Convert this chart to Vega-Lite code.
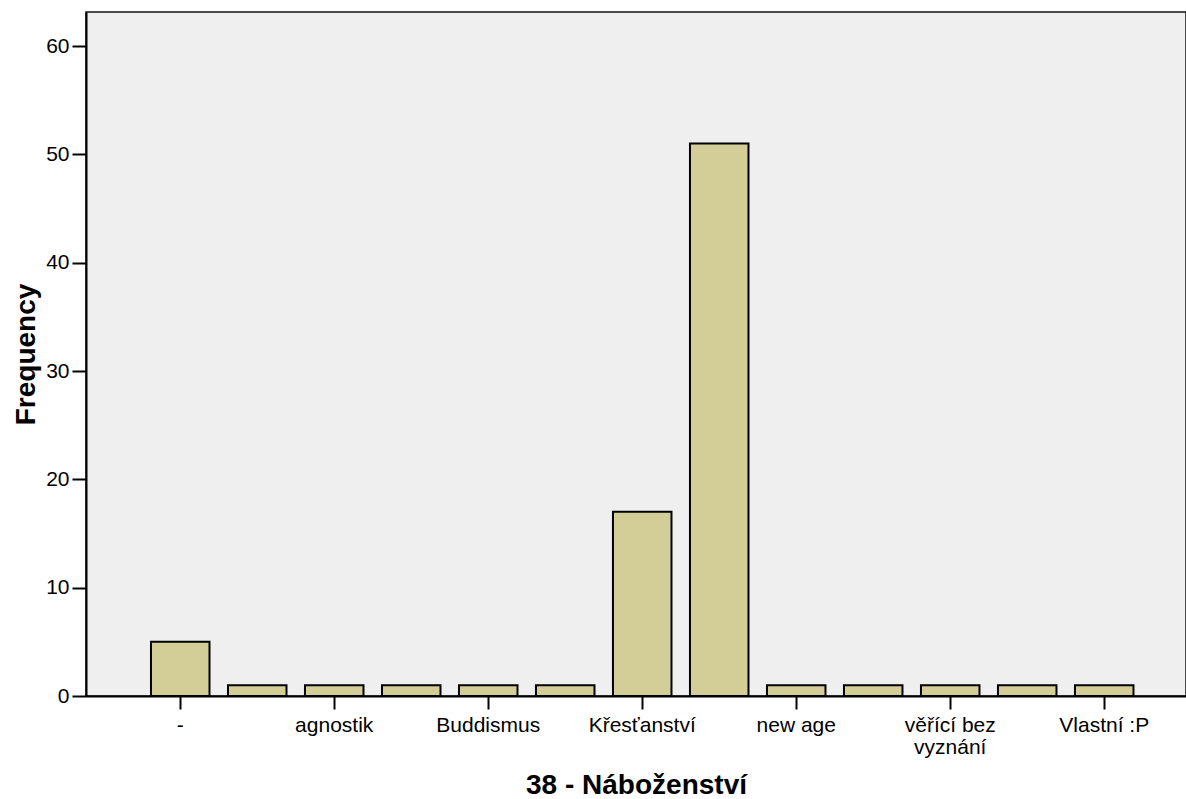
{
  "$schema": "https://vega.github.io/schema/vega-lite/v6.json",
  "width": 1100,
  "height": 684,
  "autosize": {"type": "none"},
  "padding": {"left": 86, "top": 12, "right": 0, "bottom": 103},
  "background": "#ffffff",
  "config": {
    "font": "Liberation Sans",
    "view": {"fill": "#EFEFEF", "stroke": "#111111", "strokeWidth": 1.5}
  },
  "data": {
    "values": [
      {"kategorie": "-", "frequency": 5},
      {"kategorie": "kategorie 2", "frequency": 1},
      {"kategorie": "agnostik", "frequency": 1},
      {"kategorie": "kategorie 4", "frequency": 1},
      {"kategorie": "Buddismus", "frequency": 1},
      {"kategorie": "kategorie 6", "frequency": 1},
      {"kategorie": "Křesťanství", "frequency": 17},
      {"kategorie": "kategorie 8", "frequency": 51},
      {"kategorie": "new age", "frequency": 1},
      {"kategorie": "kategorie 10", "frequency": 1},
      {"kategorie": "věřící bez vyznání", "frequency": 1},
      {"kategorie": "kategorie 12", "frequency": 1},
      {"kategorie": "Vlastní :P", "frequency": 1}
    ]
  },
  "mark": {"type": "bar", "fill": "#D3CE98", "stroke": "#000000", "strokeWidth": 2},
  "encoding": {
    "x": {
      "field": "kategorie",
      "type": "nominal",
      "sort": null,
      "scale": {"paddingInner": 0.24, "paddingOuter": 0.763, "align": 0.553},
      "axis": {
        "title": "38 - Náboženství",
        "titleFont": "Liberation Sans",
        "titleFontSize": 28,
        "titleFontWeight": "bold",
        "titleColor": "#000000",
        "titleBaseline": "alphabetic",
        "titleX": 550,
        "titleY": 97,
        "titleAnchor": "middle",
        "values": ["-", "agnostik", "Buddismus", "Křesťanství", "new age", "věřící bez vyznání", "Vlastní :P"],
        "labelExpr": "datum.value == 'věřící bez vyznání' ? ['věřící bez', 'vyznání'] : datum.label",
        "labelAngle": 0,
        "labelFontSize": 21,
        "labelColor": "#000000",
        "labelPadding": 5,
        "labelLineHeight": 22,
        "labelOverlap": false,
        "tickSize": 13,
        "tickWidth": 2,
        "tickColor": "#000000",
        "domainColor": "#000000",
        "domainWidth": 2,
        "grid": false
      }
    },
    "y": {
      "field": "frequency",
      "type": "quantitative",
      "scale": {"domain": [0, 63.14], "nice": false, "zero": true},
      "axis": {
        "title": "Frequency",
        "titleFont": "Liberation Sans",
        "titleFontSize": 28,
        "titleFontWeight": "bold",
        "titleColor": "#000000",
        "titleAngle": -90,
        "titleBaseline": "alphabetic",
        "titleX": -52,
        "titleY": 342,
        "titleAnchor": "middle",
        "values": [0, 10, 20, 30, 40, 50, 60],
        "labelFontSize": 21,
        "labelColor": "#000000",
        "labelPadding": 3,
        "tickSize": 14,
        "tickWidth": 2,
        "tickColor": "#000000",
        "domainColor": "#000000",
        "domainWidth": 2,
        "grid": false
      }
    }
  }
}
